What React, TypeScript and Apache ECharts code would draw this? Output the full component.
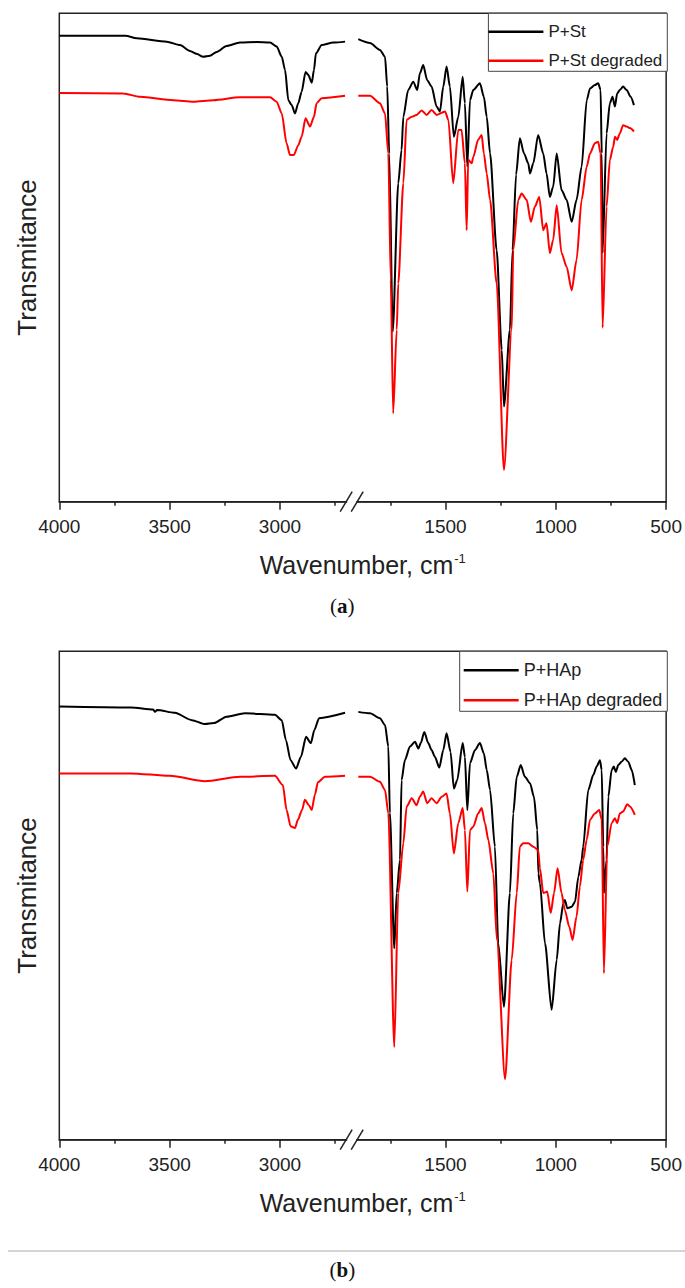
import React, { useEffect, useRef } from "react";
import * as echarts from "echarts";

const SANS = '"Liberation Sans", Arial, sans-serif';
const SERIF = '"Liberation Serif", "DejaVu Serif", serif';

// Broken wavenumber axis: 4000..2700 | break | 1900..500
const BREAK_HIGH = 2700;
const BREAK_LOW = 1900;
const BREAK_GAP = 50;
const majorTicks = [4000, 3500, 3000, 1500, 1000, 500];
const minorTicks = [3750, 3250, 2750, 1750, 1250, 750];

// (a) P+St
const stWave = [4000, 3700, 3649, 3513, 3453, 3408, 3378, 3348, 3317, 3287, 3242, 3181, 3106, 3045, 3015, 2992, 2977, 2962, 2947, 2932, 2917, 2902, 2884, 2872, 2856, 2846, 2837, 2811, 2758, 2705,
  1895, 1842, 1797, 1774, 1764, 1755, 1739, 1714, 1699, 1691, 1669, 1646, 1628, 1616, 1601, 1583, 1563, 1540, 1525, 1510, 1495, 1480, 1462, 1442, 1422, 1412, 1401, 1389, 1374, 1344, 1326, 1313, 1298, 1268, 1245, 1235, 1208, 1196, 1180, 1163, 1144, 1125, 1117, 1102, 1080, 1057, 1042, 1027, 1012, 996, 974, 951, 928, 906, 883, 860, 845, 823, 808, 797, 792, 788, 770, 755, 743, 732, 722, 710, 695, 679, 661, 646];
const stT = [95.4, 95.4, 94.9, 94.2, 93.5, 92.3, 91.7, 91.1, 91.3, 92.1, 93.3, 94.0, 94.1, 94.0, 93.2, 91.1, 88.4, 82.2, 81.2, 79.5, 81.6, 83.9, 88.0, 87.4, 85.8, 88.4, 91.8, 93.5, 94.0, 94.2,
  94.7, 93.9, 92.5, 91.1, 85.0, 71.3, 34.8, 65.2, 72.0, 78.8, 84.3, 86.0, 84.3, 87.7, 89.4, 86.3, 85.0, 80.9, 79.9, 85.0, 89.1, 85.0, 74.7, 78.8, 87.0, 81.6, 68.6, 82.2, 84.3, 85.7, 82.9, 78.8, 71.3, 51.5, 31.1, 19.5, 35.2, 51.5, 67.0, 74.4, 71.3, 69.3, 67.2, 69.3, 75.1, 71.3, 67.2, 62.4, 64.5, 71.3, 63.8, 61.8, 57.3, 61.8, 68.6, 82.2, 84.6, 85.3, 85.7, 84.3, 71.3, 50.9, 75.4, 81.6, 82.9, 80.9, 83.6, 84.3, 85.0, 84.3, 82.9, 81.2];

// (a) P+St degraded
const stDegWave = [4000, 3710, 3634, 3483, 3393, 3302, 3181, 3045, 3015, 2992, 2970, 2955, 2937, 2917, 2902, 2884, 2864, 2846, 2834, 2811, 2705,
  1895, 1842, 1797, 1774, 1759, 1748, 1737, 1721, 1714, 1691, 1676, 1653, 1631, 1608, 1585, 1563, 1540, 1502, 1487, 1465, 1442, 1427, 1412, 1404, 1397, 1381, 1374, 1352, 1336, 1326, 1313, 1298, 1268, 1235, 1200, 1193, 1170, 1155, 1132, 1113, 1095, 1075, 1057, 1042, 1027, 1012, 996, 974, 951, 928, 906, 883, 860, 845, 823, 808, 797, 788, 770, 755, 740, 732, 722, 710, 695, 679, 664, 646];
const stDegT = [83.7, 83.6, 82.9, 82.2, 81.9, 82.2, 82.8, 82.8, 81.9, 79.5, 73.4, 71.0, 71.0, 73.0, 74.7, 78.5, 76.8, 78.8, 81.6, 82.6, 83.1,
  83.1, 83.1, 81.6, 79.5, 71.3, 45.4, 18.1, 35.2, 44.7, 65.2, 78.2, 78.8, 79.2, 80.1, 79.2, 80.2, 79.2, 79.9, 78.2, 65.2, 76.1, 76.1, 69.3, 55.6, 70.0, 69.3, 70.6, 74.1, 75.1, 71.3, 67.2, 61.8, 44.7, 6.5, 35.2, 51.5, 61.8, 63.1, 61.8, 57.3, 60.4, 62.4, 55.6, 57.0, 50.9, 53.6, 60.7, 50.9, 48.1, 43.3, 49.5, 61.8, 68.6, 71.3, 73.4, 73.7, 71.3, 35.6, 60.4, 70.0, 72.7, 74.7, 74.1, 75.4, 77.1, 76.8, 76.5, 75.8];

// (b) P+HAp
const hapWave = [4000, 3675, 3575, 3566, 3557, 3476, 3399, 3340, 3299, 3242, 3159, 3023, 2992, 2973, 2952, 2927, 2905, 2882, 2860, 2844, 2823, 2705,
  1895, 1842, 1797, 1774, 1759, 1752, 1732, 1721, 1706, 1699, 1684, 1661, 1638, 1623, 1612, 1596, 1578, 1563, 1548, 1528, 1510, 1495, 1477, 1462, 1447, 1422, 1412, 1401, 1389, 1366, 1344, 1326, 1313, 1298, 1276, 1261, 1235, 1208, 1193, 1177, 1159, 1140, 1117, 1099, 1084, 1079, 1072, 1049, 1019, 996, 981, 966, 959, 948, 928, 913, 898, 883, 876, 853, 830, 815, 800, 792, 785, 782, 770, 762, 747, 737, 728, 717, 702, 687, 672, 656, 642];
const hapT = [88.7, 88.5, 88.1, 87.6, 88.0, 87.4, 85.9, 85.1, 85.3, 86.6, 87.3, 87.0, 85.9, 81.8, 77.7, 76.0, 78.4, 82.5, 81.2, 83.9, 86.3, 87.4,
  87.6, 87.3, 86.3, 84.9, 80.5, 66.9, 39.2, 50.5, 57.3, 73.6, 77.7, 80.5, 81.5, 80.1, 81.2, 83.5, 81.2, 79.8, 78.4, 76.2, 79.8, 83.2, 79.4, 71.9, 73.6, 81.2, 78.4, 67.5, 77.1, 79.8, 81.2, 79.1, 75.7, 71.6, 60.0, 40.2, 27.2, 50.5, 66.8, 74.3, 76.7, 74.3, 73.0, 70.2, 63.4, 54.5, 52.5, 40.2, 26.6, 36.8, 44.3, 48.4, 49.1, 47.4, 47.7, 48.7, 53.8, 57.3, 60.0, 71.6, 74.7, 76.4, 77.7, 75.7, 60.0, 50.5, 57.3, 70.2, 75.7, 76.4, 75.3, 76.7, 77.4, 78.1, 77.4, 75.7, 72.6];

// (b) P+HAp degraded
const hapDegWave = [4000, 3679, 3498, 3340, 3181, 3023, 2987, 2970, 2952, 2932, 2919, 2900, 2887, 2869, 2856, 2842, 2828, 2796, 2705,
  1895, 1842, 1797, 1774, 1759, 1732, 1714, 1691, 1676, 1653, 1631, 1616, 1601, 1583, 1563, 1540, 1517, 1495, 1480, 1462, 1442, 1422, 1412, 1401, 1389, 1374, 1352, 1336, 1321, 1306, 1283, 1267, 1230, 1200, 1177, 1163, 1148, 1125, 1102, 1080, 1072, 1057, 1039, 1023, 1008, 992, 974, 959, 939, 924, 906, 891, 876, 860, 845, 823, 803, 792, 782, 767, 747, 732, 722, 710, 695, 676, 664, 642];
const hapDegT = [75.0, 75.0, 74.5, 73.4, 74.3, 74.5, 72.6, 67.5, 64.2, 63.8, 65.5, 67.5, 69.6, 68.5, 67.5, 70.6, 73.2, 74.3, 74.5,
  74.3, 74.3, 73.3, 71.6, 66.8, 19.0, 50.5, 60.7, 68.2, 69.9, 68.5, 70.2, 71.3, 68.9, 69.9, 68.9, 70.2, 70.9, 66.8, 58.6, 64.8, 67.9, 63.4, 50.8, 63.4, 64.1, 66.8, 67.9, 64.8, 61.4, 54.5, 40.9, 12.4, 36.8, 50.5, 60.0, 60.7, 60.7, 60.0, 59.3, 55.6, 50.5, 50.8, 46.4, 50.5, 55.6, 50.5, 47.0, 43.6, 40.9, 45.7, 51.8, 57.3, 61.4, 65.5, 66.8, 67.5, 65.5, 34.1, 60.0, 64.8, 65.8, 64.8, 66.8, 67.2, 68.7, 68.2, 66.5];

const AXIS_MAX = (4000 - BREAK_HIGH) + BREAK_GAP + (BREAK_LOW - 500);

function toAxis(w: number): number {
  return w >= BREAK_HIGH ? 4000 - w : (4000 - BREAK_HIGH) + BREAK_GAP + (BREAK_LOW - w);
}
function fromAxis(t: number): number {
  const leftLen = 4000 - BREAK_HIGH;
  return t <= leftLen ? 4000 - t : BREAK_LOW - (t - leftLen - BREAK_GAP);
}

function buildData(wave: number[], vals: number[]) {
  const out: any[] = [];
  for (let i = 0; i < wave.length; i++) {
    if (i > 0 && wave[i - 1] >= BREAK_HIGH && wave[i] <= BREAK_LOW) {
      out.push([toAxis(BREAK_HIGH) + BREAK_GAP / 2, null]);
    }
    out.push([toAxis(wave[i]), vals[i]]);
  }
  return out;
}

const GRID_LEFT = 59.3;
const GRID_WIDTH = 608;
const GRID_HEIGHT = 488.4;
const GRID_TOPS = [13.3, 651.3];

function xAxesFor(gridIndex: number) {
  const major = majorTicks.map(toAxis);
  const minor = minorTicks.map(toAxis);
  return [
    {
      gridIndex,
      type: "value",
      min: 0,
      max: AXIS_MAX,
      position: "bottom",
      axisLine: { show: true, lineStyle: { color: "#222", width: 1.5 } },
      axisTick: { show: true, customValues: major, length: 8, lineStyle: { color: "#222", width: 1.5 } },
      axisLabel: {
        show: true,
        customValues: major,
        formatter: (v: number) => String(Math.round(fromAxis(v))),
        fontFamily: SANS,
        fontSize: 19,
        color: "#222",
        margin: 15,
      },
      splitLine: { show: false },
      name: "{m|Wavenumber, cm}{s|-1}",
      nameLocation: "middle",
      nameGap: 50,
      nameTextStyle: {
        rich: {
          m: { fontFamily: SANS, fontSize: 25, color: "#222" },
          s: { fontFamily: SANS, fontSize: 13, color: "#222", padding: [0, 0, 13, 1] },
        },
      },
    },
    {
      gridIndex,
      type: "value",
      min: 0,
      max: AXIS_MAX,
      position: "bottom",
      axisLine: { show: false },
      axisTick: { show: true, customValues: minor, length: 4, lineStyle: { color: "#222", width: 1.5 } },
      axisLabel: { show: false },
      splitLine: { show: false },
    },
  ];
}

function yAxisFor(gridIndex: number) {
  return {
    gridIndex,
    type: "value",
    min: 0,
    max: 100,
    axisLine: { show: false },
    axisTick: { show: false },
    axisLabel: { show: false },
    splitLine: { show: false },
    name: "Transmitance",
    nameLocation: "middle",
    nameGap: 19,
    nameTextStyle: { fontFamily: SANS, fontSize: 26, color: "#222" },
  };
}

function legendFor(top: number, names: string[], fontSize: number, padLeft: number) {
  return {
    show: true,
    orient: "vertical",
    top,
    right: 685 - (GRID_LEFT + GRID_WIDTH),
    data: names,
    icon: "rect",
    itemWidth: 55,
    itemHeight: 2.5,
    itemGap: 12,
    padding: [10, 5, 2, padLeft],
    borderColor: "#444",
    borderWidth: 1,
    backgroundColor: "#fff",
    selectedMode: false,
    textStyle: { fontFamily: SANS, fontSize, color: "#222", lineHeight: 17 },
  };
}

function lineSeries(name: string, wave: number[], vals: number[], color: string, gridIndex: number) {
  return {
    name,
    type: "line",
    xAxisIndex: gridIndex * 2,
    yAxisIndex: gridIndex,
    data: buildData(wave, vals),
    symbol: "none",
    showSymbol: false,
    connectNulls: false,
    smooth: 0.25,
    smoothMonotone: "x",
    lineStyle: { color, width: 2 },
    itemStyle: { color },
    z: 3,
  };
}

export default function App() {
  const ref = useRef<HTMLDivElement>(null);

  useEffect(() => {
    if (!ref.current) return;
    const chart = echarts.init(ref.current, null, { renderer: "svg" });
    chart.setOption({
      animation: false,
      backgroundColor: "#fff",
      grid: GRID_TOPS.map((top) => ({
        left: GRID_LEFT,
        top,
        width: GRID_WIDTH,
        height: GRID_HEIGHT,
        show: true,
        borderColor: "#222",
        borderWidth: 1.5,
        backgroundColor: "transparent",
        containLabel: false,
      })),
      xAxis: [...xAxesFor(0), ...xAxesFor(1)],
      yAxis: [yAxisFor(0), yAxisFor(1)],
      legend: [
        legendFor(GRID_TOPS[0], ["P+St", "P+St degraded"], 17, 0),
        legendFor(GRID_TOPS[1], ["P+HAp", "P+HAp degraded"], 18, 4),
      ],
      series: [
        lineSeries("P+St", stWave, stT, "#000000", 0),
        lineSeries("P+St degraded", stDegWave, stDegT, "#ff0000", 0),
        lineSeries("P+HAp", hapWave, hapT, "#000000", 1),
        lineSeries("P+HAp degraded", hapDegWave, hapDegT, "#ff0000", 1),
      ],
    });

    const graphics: any[] = [];
    [0, 1].forEach((g) => {
      const xa = chart.convertToPixel({ xAxisIndex: g * 2 }, toAxis(BREAK_HIGH)) as number;
      const xb = chart.convertToPixel({ xAxisIndex: g * 2 }, toAxis(BREAK_LOW)) as number;
      const y = chart.convertToPixel({ yAxisIndex: g }, 0) as number;
      graphics.push({
        type: "rect",
        z: 100,
        shape: { x: xa + 1, y: y - 3, width: xb - xa - 2, height: 6 },
        style: { fill: "#fff" },
      });
      [xa, xb].forEach((x) => {
        graphics.push({
          type: "line",
          z: 101,
          shape: { x1: x - 6, y1: y + 10, x2: x + 6, y2: y - 10 },
          style: { stroke: "#222", lineWidth: 1.5 },
        });
      });
    });
    const labelX = GRID_LEFT + GRID_WIDTH / 2 - 21;
    ["a", "b"].forEach((letter, i) => {
      graphics.push({
        type: "text",
        z: 100,
        x: labelX,
        y: i === 0 ? 606 : 1270,
        style: {
          text: "({b|" + letter + "})",
          fontFamily: SERIF,
          fontSize: 21,
          fill: "#111",
          textAlign: "center",
          textVerticalAlign: "middle",
          rich: { b: { fontFamily: SERIF, fontSize: 21, fontWeight: "bold", fill: "#111" } },
        },
      });
    });
    graphics.push({
      type: "line",
      z: 100,
      shape: { x1: 8, y1: 1251, x2: 685, y2: 1251 },
      style: { stroke: "#aaa", lineWidth: 1 },
    });
    chart.setOption({ graphic: graphics });

    return () => chart.dispose();
  }, []);

  return (
    <div
      ref={ref}
      style={{ position: "absolute", left: 0, top: 0, width: 685, height: 1288, background: "#fff" }}
    />
  );
}
